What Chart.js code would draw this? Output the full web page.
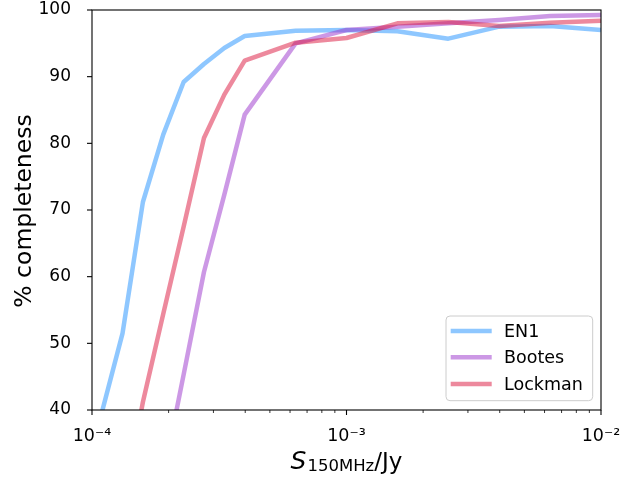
<!DOCTYPE html>
<html><head><meta charset="utf-8">
<script src="https://cdn.jsdelivr.net/npm/chart.js@4.4.1/dist/chart.umd.min.js"></script>
<style>html,body{margin:0;padding:0;background:#fff;}#wrap{width:644px;height:481px;}</style>
</head><body><div id="wrap"><canvas id="c" width="644" height="481"></canvas></div>
<script>
// ---- data ----
const fluxJy  = [1.096e-4, 1.318e-4, 1.585e-4, 1.905e-4, 2.291e-4, 2.754e-4, 3.311e-4, 3.981e-4, 6.310e-4, 1.000e-3, 1.585e-3, 2.512e-3, 3.981e-3, 6.310e-3, 1.000e-2];
const en1     = [39.8, 51.5, 71.2, 81.3, 89.2, 91.9, 94.3, 96.1, 96.9, 97.0, 96.8, 95.7, 97.5, 97.6, 97.0];
const bootes  = [null, null, null, 30.0, 45.3, 60.7, 72.3, 84.3, 95.0, 97.0, 97.5, 98.0, 98.5, 99.1, 99.25];
const lockman = [null, 25.0, 41.2, 54.4, 67.5, 80.8, 87.3, 92.4, 95.1, 95.8, 98.0, 98.2, 97.6, 98.1, 98.4];
const seriesNames  = ['EN1', 'Bootes', 'Lockman'];
const seriesColors = ['rgba(30,144,255,0.5)', 'rgba(153,50,204,0.5)', 'rgba(220,20,60,0.5)'];
const yTicks       = [40, 50, 60, 70, 80, 90, 100];
const xMajorTicks  = [1e-4, 1e-3, 1e-2];
const xTickLabels  = ['10\u207B\u2074', '10\u207B\u00B3', '10\u207B\u00B2'];
const yTitle = '% completeness';
const xTitleMain = 'S', xTitleSub = '150MHz', xTitleUnit = '/Jy';

const FONT = 'DejaVu Sans';
const seriesData = [en1, bootes, lockman];

function isMajor(v) { return xMajorTicks.findIndex(m => Math.abs(Math.log10(m) - Math.log10(v)) < 1e-6); }

const decorations = {
  id: 'decorations',
  afterDraw(chart) {
    const ctx = chart.ctx, ca = chart.chartArea;
    const xs = chart.scales.x, ys = chart.scales.y;
    ctx.save();
    // frame
    ctx.strokeStyle = '#000'; ctx.lineWidth = 1.1;
    ctx.strokeRect(ca.left, ca.top, ca.right - ca.left, ca.bottom - ca.top);
    // x ticks
    xs.ticks.forEach(t => {
      const px = xs.getPixelForValue(t.value);
      const len = isMajor(t.value) >= 0 ? 5 : 3;
      ctx.lineWidth = isMajor(t.value) >= 0 ? 1.1 : 0.8;
      ctx.beginPath(); ctx.moveTo(px, ca.bottom); ctx.lineTo(px, ca.bottom + len); ctx.stroke();
    });
    // y ticks
    ctx.lineWidth = 1.1;
    ys.ticks.forEach(t => {
      const py = ys.getPixelForValue(t.value);
      ctx.beginPath(); ctx.moveTo(ca.left, py); ctx.lineTo(ca.left - 5, py); ctx.stroke();
    });
    // y title
    ctx.fillStyle = '#000';
    ctx.save();
    ctx.translate(31, (ca.top + ca.bottom) / 2 + 1);
    ctx.rotate(-Math.PI / 2);
    ctx.font = '23.5px ' + FONT; ctx.textAlign = 'center'; ctx.textBaseline = 'alphabetic';
    ctx.fillText(yTitle, 0, 0);
    ctx.restore();
    // x title
    ctx.textAlign = 'left'; ctx.textBaseline = 'alphabetic';
    ctx.font = 'italic 25px ' + FONT; const wS = ctx.measureText(xTitleMain).width;
    ctx.font = '16.5px ' + FONT; const wSub = ctx.measureText(xTitleSub).width;
    ctx.font = '23px ' + FONT; const wU = ctx.measureText(xTitleUnit).width;
    const gap = 1;
    const total = wS + gap + wSub + wU;
    let x0 = (ca.left + ca.right) / 2 - total / 2;
    const base = ca.bottom + 58.5;
    ctx.font = 'italic 25px ' + FONT; ctx.fillText(xTitleMain, x0, base); x0 += wS + gap;
    ctx.font = '16.5px ' + FONT; ctx.fillText(xTitleSub, x0, base + 2); x0 += wSub;
    ctx.font = '23px ' + FONT; ctx.fillText(xTitleUnit, x0, base);
    // legend
    const w = 146.7, h = 84.7;
    const lx = ca.right - 8.3 - w, ly = ca.bottom - 9.3 - h, r = 4;
    ctx.beginPath();
    ctx.moveTo(lx + r, ly); ctx.lineTo(lx + w - r, ly); ctx.quadraticCurveTo(lx + w, ly, lx + w, ly + r);
    ctx.lineTo(lx + w, ly + h - r); ctx.quadraticCurveTo(lx + w, ly + h, lx + w - r, ly + h);
    ctx.lineTo(lx + r, ly + h); ctx.quadraticCurveTo(lx, ly + h, lx, ly + h - r);
    ctx.lineTo(lx, ly + r); ctx.quadraticCurveTo(lx, ly, lx + r, ly); ctx.closePath();
    ctx.fillStyle = 'rgba(255,255,255,0.8)'; ctx.fill();
    ctx.strokeStyle = '#cccccc'; ctx.lineWidth = 1; ctx.stroke();
    const rows = [15, 41.3, 68];
    chart.data.datasets.forEach((ds, i) => {
      const yy = ly + rows[i];
      ctx.strokeStyle = ds.borderColor; ctx.lineWidth = 4.5; ctx.lineCap = 'butt';
      ctx.beginPath(); ctx.moveTo(lx + 4.7, yy); ctx.lineTo(lx + 45.7, yy); ctx.stroke();
      ctx.fillStyle = '#000'; ctx.font = '17.5px ' + FONT; ctx.textBaseline = 'middle';
      ctx.fillText(ds.label, lx + 58, yy + 1);
    });
    ctx.restore();
  }
};

new Chart(document.getElementById('c'), {
  type: 'line',
  data: {
    datasets: seriesNames.map((name, i) => ({
      label: name,
      data: fluxJy.map((x, j) => ({ x: x, y: seriesData[i][j] })),
      borderColor: seriesColors[i],
      backgroundColor: seriesColors[i],
      borderWidth: 4.5,
      pointRadius: 0,
      tension: 0,
      fill: false,
      clip: 0,
      borderJoinStyle: 'round',
      borderCapStyle: 'butt',
      spanGaps: false,
      order: 2 - i
    }))
  },
  options: {
    responsive: false,
    animation: false,
    devicePixelRatio: 1,
    layout: { padding: { left: 0, top: 10, right: 43, bottom: 0 } },
    plugins: { legend: { display: false }, tooltip: { enabled: false } },
    scales: {
      x: {
        type: 'logarithmic', min: 1e-4, max: 1e-2,
        grid: { display: false }, border: { display: false },
        afterBuildTicks: s => {
          const vals = [];
          for (let e = -4; e <= -2; e++) {
            for (let m = 1; m <= 9; m++) {
              const v = m * Math.pow(10, e);
              if (v <= 1e-2 * 1.0000001) vals.push(v);
            }
          }
          s.ticks = vals.map(v => ({ value: v, major: isMajor(v) >= 0 }));
        },
        afterFit: s => { s.height = 71; s.paddingLeft = 0; s.paddingRight = 0; },
        ticks: {
          autoSkip: false, maxRotation: 0, minRotation: 0, padding: 8, color: '#000',
          font: { family: FONT, size: 17.5 },
          callback: v => { const k = isMajor(v); return k >= 0 ? xTickLabels[k] : ''; }
        }
      },
      y: {
        type: 'linear', min: 40, max: 100,
        grid: { display: false }, border: { display: false },
        afterBuildTicks: s => { s.ticks = yTicks.map(v => ({ value: v })); },
        afterFit: s => { s.width = 92; s.paddingTop = 0; s.paddingBottom = 0; },
        ticks: { padding: 13, color: '#000', font: { family: FONT, size: 17 } }
      }
    }
  },
  plugins: [decorations]
});
</script>
</body></html>
